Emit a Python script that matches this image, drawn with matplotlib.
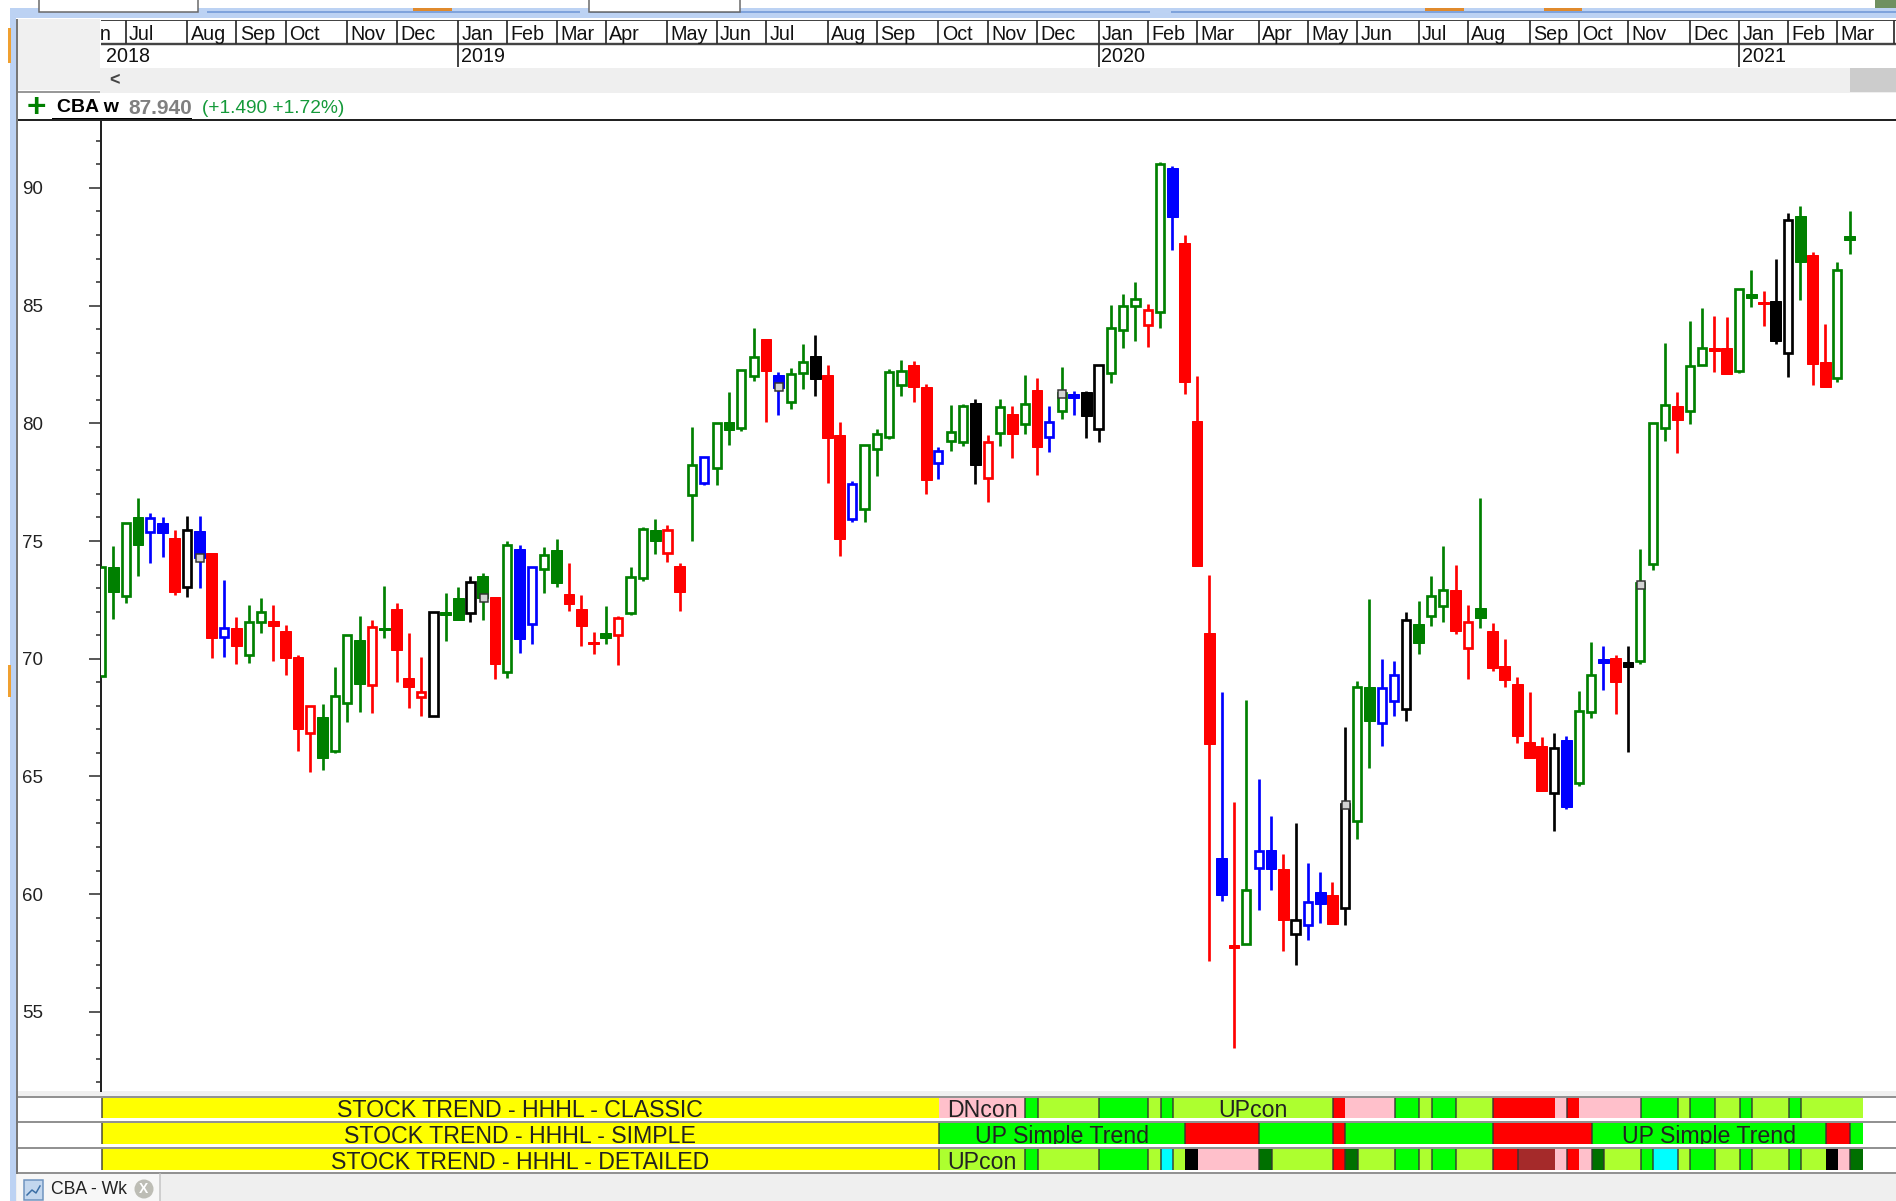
import matplotlib
matplotlib.use('Agg')
import matplotlib.pyplot as plt
from matplotlib.patches import Rectangle, Circle

plt.rcParams['font.family'] = ['Liberation Sans', 'DejaVu Sans']

# -----------------------------
# Weekly candles
# -----------------------------
opens = [69.28, 73.91, 72.68, 76.03, 75.37, 75.76, 75.13, 73.05, 75.42, 74.50,
         70.91, 71.30, 70.16, 71.54, 71.60, 71.19, 70.09, 66.86, 67.54, 66.09,
         68.13, 70.78, 68.88, 71.32, 72.11, 69.17, 68.36, 67.55, 71.98, 72.58,
         71.94, 73.51, 72.64, 69.45, 74.66, 71.47, 73.80, 74.60, 72.75, 72.13,
         70.72, 71.08, 71.02, 71.93, 73.41, 75.47, 74.48, 73.95, 76.97, 77.48,
         78.09, 80.04, 79.79, 82.01, 83.57, 82.05, 80.92, 82.12, 82.87, 82.07,
         79.52, 75.92, 76.35, 78.89, 79.40, 81.61, 82.48, 81.56, 78.30, 79.23,
         79.22, 80.85, 77.66, 79.57, 80.40, 79.98, 81.43, 79.40, 80.51, 81.26,
         81.32, 79.76, 82.12, 83.98, 84.98, 84.16, 84.73, 90.86, 87.67, 80.10,
         71.08, 61.52, 57.82, 57.88, 61.12, 61.87, 61.07, 58.29, 58.69, 60.09,
         59.96, 59.41, 63.09, 68.80, 67.25, 68.19, 67.85, 71.47, 71.83, 72.22,
         72.92, 70.44, 72.17, 71.19, 69.69, 68.94, 66.45, 66.28, 64.31, 66.56,
         64.71, 67.72, 69.99, 70.04, 69.86, 69.92, 74.04, 79.80, 80.73, 80.51,
         82.48, 83.21, 83.21, 82.22, 85.48, 85.14, 85.18, 83.00, 88.82, 87.16,
         82.59, 81.91, 87.97]
closes = [73.88, 72.85, 75.75, 74.82, 75.98, 75.33, 72.85, 75.45, 74.29, 70.88,
          71.29, 70.54, 71.57, 71.97, 71.40, 70.02, 67.01, 67.99, 65.80, 68.40,
          71.00, 68.93, 71.35, 71.23, 70.37, 68.81, 68.57, 71.97, 71.87, 71.64,
          73.24, 72.56, 69.77, 74.83, 70.82, 73.90, 74.42, 73.20, 72.34, 71.39,
          70.64, 70.87, 71.71, 73.48, 75.52, 75.00, 75.45, 72.85, 78.23, 78.58,
          80.03, 79.73, 82.28, 82.80, 82.22, 81.51, 82.09, 82.62, 81.88, 79.39,
          75.10, 77.42, 79.09, 79.56, 82.18, 82.22, 81.53, 77.59, 78.81, 79.64,
          80.72, 78.23, 79.21, 80.71, 79.56, 80.82, 78.98, 80.07, 81.30, 81.06,
          80.31, 82.49, 84.06, 85.00, 85.28, 84.81, 91.02, 88.75, 81.75, 73.94,
          66.38, 59.95, 57.70, 60.17, 61.85, 61.05, 58.91, 58.90, 59.66, 59.59,
          58.73, 63.83, 68.80, 67.35, 68.74, 69.32, 71.63, 70.65, 72.68, 72.90,
          71.18, 71.57, 71.74, 69.60, 69.08, 66.72, 65.78, 64.39, 66.19, 63.70,
          67.76, 69.32, 69.83, 69.02, 69.66, 73.20, 80.00, 80.76, 80.14, 82.45,
          83.20, 83.09, 82.09, 85.69, 85.34, 85.07, 83.50, 88.64, 86.85, 82.52,
          81.53, 86.50, 87.77]
highs = [73.88, 74.79, 75.75, 76.81, 76.18, 76.00, 75.47, 76.06, 76.06, 74.50,
         73.34, 71.79, 72.30, 72.59, 72.30, 71.43, 70.16, 67.99, 68.08, 69.63,
         71.00, 71.83, 71.64, 73.10, 72.35, 71.08, 70.09, 71.97, 72.81, 73.06,
         73.51, 73.63, 72.64, 75.01, 74.84, 73.90, 74.73, 75.07, 74.08, 72.69,
         71.13, 72.24, 71.83, 73.91, 75.61, 75.93, 75.69, 74.08, 79.86, 78.58,
         80.03, 81.32, 82.28, 84.03, 83.57, 82.19, 82.36, 83.35, 83.75, 82.48,
         80.04, 77.55, 79.09, 79.76, 82.29, 82.69, 82.65, 81.66, 78.99, 80.78,
         80.83, 81.03, 79.52, 81.02, 80.73, 82.07, 81.94, 80.73, 82.41, 81.37,
         81.37, 82.49, 85.01, 85.48, 86.00, 85.07, 91.09, 90.93, 88.01, 82.01,
         73.56, 68.59, 63.90, 68.25, 64.89, 63.32, 61.70, 63.03, 61.31, 60.95,
         60.50, 67.08, 69.05, 72.52, 69.97, 69.92, 72.00, 72.47, 73.51, 74.79,
         73.98, 72.28, 76.83, 71.53, 70.85, 69.24, 68.60, 66.69, 66.83, 66.73,
         68.64, 70.72, 70.55, 70.16, 70.55, 74.66, 80.00, 83.40, 81.32, 84.33,
         84.91, 84.56, 84.50, 85.69, 86.51, 85.63, 86.98, 88.95, 89.25, 87.29,
         84.20, 86.87, 89.02]
lows = [69.28, 71.69, 72.38, 73.53, 74.05, 74.33, 72.72, 72.61, 73.02, 70.02,
        70.06, 69.77, 69.83, 71.11, 69.89, 69.31, 66.06, 65.20, 65.27, 66.00,
        67.30, 67.75, 67.69, 70.88, 69.02, 67.92, 67.58, 67.55, 70.75, 71.64,
        71.57, 71.64, 69.14, 69.19, 70.23, 70.64, 72.78, 73.06, 72.03, 70.53,
        70.19, 70.64, 69.72, 71.86, 73.31, 74.45, 74.12, 72.03, 75.00, 77.36,
        77.36, 79.09, 79.67, 81.80, 80.07, 80.35, 80.59, 81.46, 81.17, 77.45,
        74.35, 75.81, 75.81, 77.76, 79.32, 81.17, 80.89, 77.01, 77.65, 78.81,
        79.04, 77.41, 76.67, 79.04, 78.51, 79.56, 77.82, 78.79, 80.20, 80.37,
        79.39, 79.21, 81.70, 83.20, 83.48, 83.26, 84.06, 87.36, 81.23, 73.94,
        57.17, 59.72, 53.45, 57.88, 59.32, 60.17, 57.57, 56.99, 58.05, 58.79,
        58.73, 58.69, 62.33, 65.37, 66.31, 67.58, 67.35, 70.19, 71.40, 71.57,
        71.04, 69.14, 71.29, 69.48, 68.80, 66.42, 65.78, 64.39, 62.68, 63.60,
        64.59, 67.48, 68.67, 67.64, 66.02, 69.77, 73.77, 79.26, 78.74, 79.96,
        82.48, 82.16, 82.09, 82.15, 84.94, 84.13, 83.35, 81.98, 85.22, 81.63,
        81.53, 81.77, 87.19]
candle_colors = list(
    'GGGGBBRKBR' 'BRGGRRRRGG' 'GGRGRRRKGG' 'KGRGBBGGRR' 'RGRGGGRRGB'
    'GGGGRBGGKR' 'RBGGGGRRBG' 'GKRGRGRBGB' 'KKGGGRGBRR' 'RBRGBBRKBB'
    'RKGGBBKGGG' 'RRGRRRRRKB' 'GGBRKGGGRG' 'GRRGGRKKGR' 'RGG')

# gray sticky markers
marker_idx = [8, 31, 55, 78, 101, 125]
marker_val = [74.29, 72.56, 81.54, 81.26, 63.80, 73.15]

# -----------------------------
# Calendar header
# -----------------------------
month_names = ['Jun', 'Jul', 'Aug', 'Sep', 'Oct', 'Nov', 'Dec', 'Jan', 'Feb', 'Mar',
               'Apr', 'May', 'Jun', 'Jul', 'Aug', 'Sep', 'Oct', 'Nov', 'Dec', 'Jan',
               'Feb', 'Mar', 'Apr', 'May', 'Jun', 'Jul', 'Aug', 'Sep', 'Oct', 'Nov',
               'Dec', 'Jan', 'Feb', 'Mar']
month_idx = [-2, 2, 7, 11, 15, 20, 24, 29, 33, 37,
             41, 46, 50, 54, 59, 63, 68, 72, 76, 81,
             85, 89, 94, 98, 102, 107, 111, 116, 120, 124,
             129, 133, 137, 141]
year_names = ['2018', '2019', '2020', '2021']
year_idx = [0, 29, 81, 133]

# -----------------------------
# Trend bands: start candle, colour code, then text
# -----------------------------
classic_starts = [0, 68, 75, 76, 81, 85, 86, 87, 100, 101, 105, 107, 108, 110, 113,
                  118, 119, 120, 125, 128, 129, 131, 133, 134, 137, 138]
classic_colors = ['Y', 'P', 'U', 'L', 'U', 'L', 'U', 'L', 'R', 'P', 'U', 'L', 'U', 'L', 'R',
                  'P', 'R', 'P', 'U', 'L', 'U', 'L', 'U', 'L', 'U', 'L']
simple_starts = [0, 68, 88, 94, 100, 101, 113, 121, 140, 142]
simple_colors = ['Y', 'U', 'R', 'U', 'R', 'U', 'R', 'U', 'R', 'U']
detailed_starts = [0, 68, 75, 76, 81, 85, 86, 87, 88, 89, 94, 95, 100, 101, 102, 105, 107,
                   108, 110, 113, 115, 118, 119, 120, 121, 122, 125, 126, 128, 129, 131,
                   133, 134, 137, 138, 140, 141, 142]
detailed_colors = ['Y', 'L', 'U', 'L', 'U', 'L', 'C', 'L', 'K', 'P', 'D', 'L', 'R', 'D', 'L', 'U', 'L',
                   'U', 'L', 'R', 'W', 'P', 'R', 'P', 'D', 'L', 'U', 'C', 'L', 'U', 'L',
                   'U', 'L', 'U', 'L', 'K', 'P', 'D']
band_end = 143

classic_labels = [('STOCK TREND - HHHL - CLASSIC', 0), ('DNcon', 1), ('UPcon', 7)]
simple_labels = [('STOCK TREND - HHHL - SIMPLE', 0), ('UP Simple Trend', 1), ('UP Simple Trend', 7)]
detailed_labels = [('STOCK TREND - HHHL - DETAILED', 0), ('UPcon', 1)]

candle_rgb = {'G': '#008000', 'R': '#ff0000', 'B': '#0000ff', 'K': '#000000'}
band_rgb = {'Y': '#ffff00', 'P': '#ffc0cb', 'U': '#00ff00', 'L': '#adff2f', 'R': '#ff0000',
            'C': '#00ffff', 'K': '#000000', 'D': '#007000', 'W': '#a52a2a'}

W, H = 1896, 1201
DPI = 100
px = 72 / DPI  # one pixel in points


def px_axes(left, top, right, bottom, **kw):
    return fig.add_axes([left / W, 1 - bottom / H, (right - left) / W, (bottom - top) / H], **kw)


fig = plt.figure(figsize=(W / DPI, H / DPI), dpi=DPI, facecolor='white')

# -----------------------------
# Window chrome, in pixels
# -----------------------------
bg = px_axes(0, 0, W, H)
bg.set_xlim(0, W)
bg.set_ylim(H, 0)
bg.axis('off')


def box(x0, y0, x1, y1, color, **kw):
    bg.add_patch(Rectangle((x0, y0), x1 - x0, y1 - y0, facecolor=color, edgecolor='none', **kw))


box(10, 8, 16, H, '#bcd2f3')
box(16, 8, W, 18, '#bcd2f3')
box(207, 11, 580, 13, '#7fa3dc')
box(1171, 11, W, 13, '#7fa3dc')
box(590, 11, 1150, 13, '#7fa3dc')
for x0, x1 in [(39, 198), (589, 740)]:
    bg.add_patch(Rectangle((x0, -3), x1 - x0, 15, facecolor='white', edgecolor='#666666', lw=1.5 * px))
for x0, x1 in [(413, 452), (1425, 1464), (1544, 1582)]:
    box(x0, 8, x1, 11, '#e08a2c')
box(8, 28, 11, 63, '#f0a030')
box(8, 665, 11, 697, '#f0a030')
box(1875, 0, W, 8, '#6f9060')
box(18, 19, 100, 90, '#f0f0f0')
box(100, 68, W, 93, '#efefef')
box(1850, 68, W, 92, '#cccccc')
box(18, 91, 100, 93, '#999999')
bg.text(115, 81, '<', fontsize=13, fontweight='bold', color='#444444', ha='center', va='center')

bg.text(36, 108, '+', fontsize=24, fontweight='bold', color='#008000', ha='center', va='center')
bg.text(57, 108, 'CBA w', fontsize=14, fontweight='bold', color='black', va='center')
bg.text(128.5, 108, '87.940', fontsize=15, fontweight='bold', color='#808080', va='center')
bg.text(202, 108.5, '(+1.490 +1.72%)', fontsize=13.8, color='#159a3a', va='center')
box(52, 118, 192, 121, 'black')
box(16, 119, W, 120.5, '#222222')
bg.plot([17, 17], [20, 1173], color='#777777', lw=2 * px)
box(17, 1091, W, 1096, '#f0f0f0')
for yy in [1097, 1122, 1148, 1173]:
    bg.plot([17, W], [yy, yy], color='#777777', lw=1.6 * px)

# bottom tab strip
box(16, 1174, W, H, '#efefef')
box(17, 1174, 160, H, '#f7f7f7')
bg.plot([160, 160], [1174, H], color='#c4c4c4', lw=1.5 * px)
bg.add_patch(Rectangle((24, 1180), 19, 20, facecolor='#c3d7ee', edgecolor='#6d93bf', lw=1.5 * px))
bg.plot([27, 32, 36, 40], [1195, 1190, 1193, 1186], color='#3a6ea5', lw=1.5 * px)
bg.text(51, 1189, 'CBA - Wk', fontsize=12.7, color='#222222', va='center')
bg.add_patch(Circle((144, 1189), 9.5, facecolor='#bdbdb5', edgecolor='none'))
bg.text(144, 1189, 'X', fontsize=10, fontweight='bold', color='white', ha='center', va='center')

# -----------------------------
# Month and year header
# -----------------------------
x_lo = (100.8 - 101) / 12.315
x_hi = (W - 101) / 12.315

hd = px_axes(100.8, 20, W, 67, facecolor='white')
hd.set_xlim(x_lo, x_hi)
hd.set_ylim(47, 0)
hd.axis('off')
hd.add_patch(Rectangle((x_lo, 0), x_hi - x_lo, 47, facecolor='white', edgecolor='none'))
hd.plot([x_lo, x_hi], [0, 0], color='#444444', lw=2 * px)
hd.plot([x_lo, x_hi], [23.5, 23.5], color='#444444', lw=2.4 * px)
hd.vlines(month_idx + [145.6], 0, 23.5, color='#333333', lw=1.8 * px)
for name, m in zip(month_names, month_idx):
    hd.text(m + 0.27, 14, name, fontsize=14.2, color='#111111', va='center', clip_on=True)
hd.vlines(year_idx[1:], 23.5, 47, color='#333333', lw=1.8 * px)
for name, y in zip(year_names, year_idx):
    hd.text(y + (0.4 if y == 0 else 0.22), 37, name, fontsize=14.2, color='#111111', va='center')

# -----------------------------
# Candles
# -----------------------------
ax = px_axes(100.8, 120.5, W, 1091, facecolor='white')
ax.set_xlim(x_lo, x_hi)
ax.set_ylim(75 - (1091 - 541) / 23.54, 75 - (120.5 - 541) / 23.54)

idx = range(len(opens))
ax.vlines(idx, lows, highs, colors=[candle_rgb[c] for c in candle_colors], lw=2.7 * px, zorder=2)
for i in idx:
    col = candle_rgb[candle_colors[i]]
    top = max(opens[i], closes[i])
    bottom = min(opens[i], closes[i])
    if closes[i] > opens[i]:
        ax.bar(i, top - bottom, bottom=bottom, width=0.66, facecolor='white', edgecolor=col,
               lw=2.7 * px, zorder=3)
    else:
        ax.bar(i, top - bottom, bottom=bottom, width=0.88, facecolor=col, edgecolor=col,
               lw=1 * px, zorder=3)
ax.plot([i + 0.06 for i in marker_idx], marker_val, ls='none', marker='s', ms=8.5 * px,
        mfc='#d3d3d3', mec='#333333', mew=1.5 * px, zorder=4)

for side in ['top', 'right', 'bottom']:
    ax.spines[side].set_visible(False)
ax.spines['left'].set_linewidth(2 * px)
ax.spines['left'].set_color('#222222')
ax.set_xticks([])
ax.set_yticks([55, 60, 65, 70, 75, 80, 85, 90])
ax.set_yticks([v for v in range(52, 93) if v % 5 != 0], minor=True)
ax.tick_params(axis='y', which='major', length=12 * px, width=1.6 * px, color='#333333',
               labelsize=13.5, labelcolor='#222222', pad=46 * px)
ax.tick_params(axis='y', which='minor', length=5 * px, width=1.6 * px, color='#333333')
for lab in ax.get_yticklabels():
    lab.set_va('center_baseline')

# -----------------------------
# Trend bands
# -----------------------------
band_rows = [(1097.5, 1118, classic_starts, classic_colors, classic_labels),
             (1122.8, 1143.7, simple_starts, simple_colors, simple_labels),
             (1148.8, 1169.7, detailed_starts, detailed_colors, detailed_labels)]

for top, bottom, starts, colors, labels in band_rows:
    b = px_axes(100.8, top, W, bottom)
    b.set_xlim(x_lo - 0.05, x_hi - 0.05)
    b.set_ylim(0, 1)
    b.axis('off')
    ends = starts[1:] + [band_end]
    b.barh(0.5, [e - s for s, e in zip(starts, ends)], left=starts, height=1,
           color=[band_rgb[c] for c in colors])
    keep = [s for s, c in zip(starts, colors) if c != 'P' and c != 'K']
    b.vlines(keep, 0, 1, color='#333333', lw=1.6 * px, alpha=0.85)
    for text, seg in labels:
        mid = (starts[seg] + ends[seg]) / 2
        t = b.text(mid, 0.05, text, fontsize=16.7, color='#222222', ha='center', va='baseline')
        t.set_clip_on(True)

fig.savefig('out.png', dpi=DPI)
